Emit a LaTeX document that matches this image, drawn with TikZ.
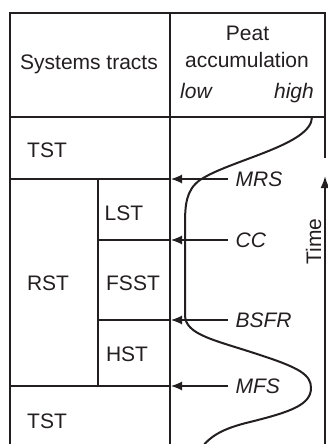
\documentclass[tikz,border=0pt]{standalone}
\usepackage{fontspec}
\setmainfont{Liberation Sans}
\usetikzlibrary{arrows.meta}
\definecolor{ink}{HTML}{231F20}
\begin{document}
\begin{tikzpicture}[x=0.5pt,y=-0.5pt,line width=0.6pt,draw=ink,
  txt/.style={font=\fontsize{10.5}{12.6}\selectfont,text=ink,inner sep=0,anchor=base},
  surf/.style={font=\fontsize{10.5}{12.6}\selectfont\itshape,text=ink,inner xsep=3.5pt,inner ysep=0,anchor=west},
  arr/.style={-{Latex[length=5.5pt,width=4.5pt]}}]
\useasboundingbox (0,0) rectangle (327,444);
\draw (10,450) -- (10,13) -- (325,13) -- (325,158);
\draw (10,117) -- (325,117);
\draw (170,13) -- (170,450);
\draw (10,179) -- (170,179) (10,386) -- (170,386);
\draw (98,179) -- (98,386);
\draw (98,240) -- (170,240) (98,320) -- (170,320);
\node[txt] (st) at (89,70) {Systems tracts};
\node[txt] (peat) at (247.5,41) {Peat};
\node[txt] (acc) at (247,68) {accumulation};
\node[txt,font=\fontsize{10.5}{12.6}\selectfont\itshape] (low) at (196,98) {low};
\node[txt,font=\fontsize{10.5}{12.6}\selectfont\itshape] (high) at (294,98) {high};
\node[txt] (tst1) at (47,157) {TST};
\node[txt] (lst) at (124,220) {LST};
\node[txt] (rst) at (48,290) {RST};
\node[txt] (fsst) at (133,290) {FSST};
\node[txt] (hst) at (127,361) {HST};
\node[txt] (tst2) at (47,428) {TST};
\node[surf] (mrs) at (228,179) {MRS};
\node[surf] (cc) at (228,240) {CC};
\node[surf] (bsfr) at (228,320) {BSFR};
\node[surf] (mfs) at (228,386) {MFS};
\coordinate (m1) at (171,179);
\coordinate (m2) at (171,240);
\coordinate (m3) at (171,320);
\coordinate (m4) at (171,386);
\draw[arr] (mrs.west) -- (m1);
\draw[arr] (cc.west) -- (m2);
\draw[arr] (bsfr.west) -- (m3);
\draw[arr] (mfs.west) -- (m4);
\node[txt,rotate=90] (time) at (321,241.5) {Time};
\coordinate (t0) at (325,450);
\coordinate (t1) at (325,176);
\draw[line width=1pt,-{Latex[length=6pt,width=4.5pt]}] (t0) -- (t1);
\draw[line width=1pt] (312,117) .. controls (312,145) and (230,160) .. (200,180)
  .. controls (186,190) and (185,205) .. (185,225) -- (185,315)
  .. controls (185,335) and (215,340) .. (260,355)
  .. controls (300,368) and (311,375) .. (311,388)
  .. controls (311,405) and (290,412) .. (250,422)
  .. controls (225,428) and (210,435) .. (200,450);
\end{tikzpicture}
\end{document}
